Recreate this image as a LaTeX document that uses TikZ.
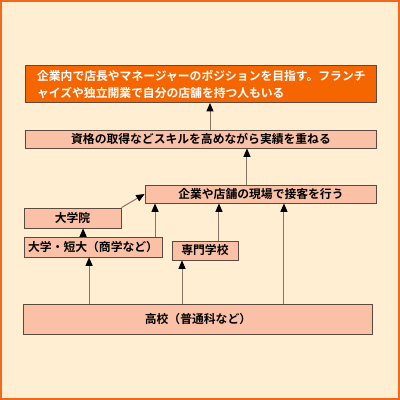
\documentclass[tikz,border=0pt]{standalone}
\usepackage{fontspec}
\newfontfamily\jp{Noto Sans CJK JP}[BoldFont={Noto Sans CJK JP Bold}]
\usetikzlibrary{arrows.meta}
\definecolor{cream}{HTML}{FFEED2}
\definecolor{frameorange}{HTML}{F2691E}
\definecolor{toporange}{HTML}{F56600}
\definecolor{salmon}{HTML}{FBC1A6}
\definecolor{boxline}{HTML}{5A4A40}
\definecolor{arrline}{HTML}{857565}

\begin{document}
\begin{tikzpicture}[x=0.025cm,y=-0.025cm,
  box/.style={draw=boxline,line width=0.6pt,fill=salmon,inner sep=0pt,
    font=\jp\bfseries\fontsize{8.4}{12.2}\selectfont},
  arr/.style={draw=arrline,line width=0.7pt,-{Triangle[black,width=5pt,length=6pt]}}]
  \fill[cream] (0,0) rectangle (400,400);
  \draw[frameorange,line width=1.6pt] (1,1) rectangle (399,399);
  \useasboundingbox (0,0) rectangle (400,400);
  % boxes
  \node[box,fill=toporange,text=white,minimum width=352*0.025cm,minimum height=37*0.025cm,
    text width=328*0.025cm,align=left] (goal) at (201,84)
    {企業内で店長やマネージャーのポジションを目指す。フランチ\\ャイズや独立開業で自分の店舗を持つ人もいる};
  \node[box,minimum width=352*0.025cm,minimum height=18*0.025cm] (skill) at (201,139)
    {資格の取得などスキルを高めながら実績を重ねる};
  \node[box,minimum width=232*0.025cm,minimum height=18*0.025cm] (genba) at (261,194)
    {企業や店舗の現場で接客を行う};
  \node[box,minimum width=97*0.025cm,minimum height=20*0.025cm] (inst) at (72.5,218)
    {大学院};
  \node[box,minimum width=138*0.025cm,minimum height=20*0.025cm] (univ) at (93,247)
    {大学・短大（商学など）};
  \node[box,minimum width=66*0.025cm,minimum height=19*0.025cm] (senmon) at (205,250.5)
    {専門学校};
  \node[box,minimum width=350*0.025cm,minimum height=31*0.025cm] (koukou) at (198,319.5)
    {高校（普通科など）};
  % arrows
  \draw[arr] (skill.north -| 210,0) -- (goal.south -| 210,0);
  \draw[arr] (genba.north -| 247,0) -- (skill.south -| 247,0);
  \draw[arr] (inst.north east) -- (genba.west);
  \draw[arr] (univ.north -| 155,0) -- (genba.south -| 155,0);
  \draw[arr] (senmon.north -| 219,0) -- (genba.south -| 219,0);
  \draw[arr] (koukou.north -| 284,0) -- (genba.south -| 284,0);
  \draw[arr] (univ.north -| 83,0) -- (inst.south -| 83,0);
  \draw[arr] (koukou.north -| 89,0) -- (univ.south -| 89,0);
  \draw[arr] (koukou.north -| 182,0) -- (senmon.south -| 182,0);
\end{tikzpicture}
\end{document}
